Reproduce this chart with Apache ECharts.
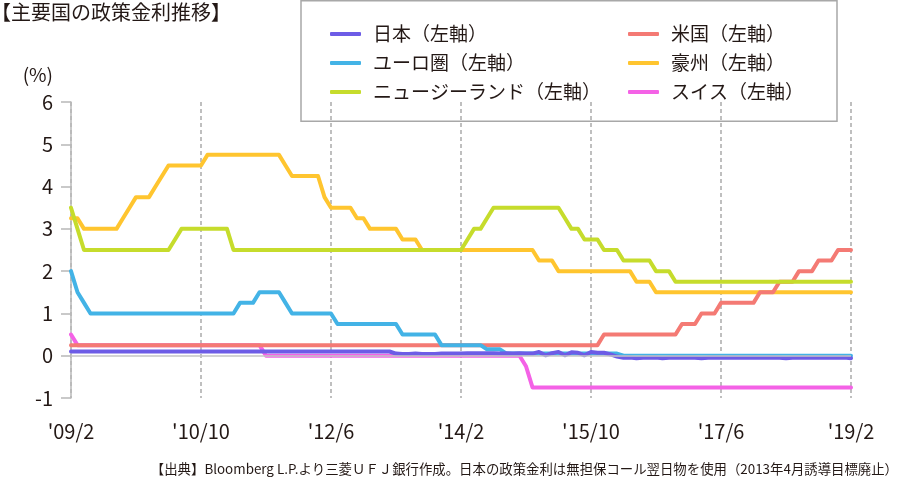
<!DOCTYPE html>
<html>
<head>
<meta charset="utf-8">
<script src="https://cdn.jsdelivr.net/npm/echarts@6/dist/echarts.min.js"></script>
<style>
html,body{margin:0;padding:0;background:#fff;}
#chart{width:900px;height:480px;}
</style>
</head>
<body>
<div id="chart"></div>
<script>
// ---- data (monthly, 2009/2 .. 2019/2) ----
const startYear = 2009, startMonth = 2, monthCount = 121;
const categories = [];
for (let i = 0; i < monthCount; i++) {
  const t = (startMonth - 1) + i;
  categories.push((startYear + Math.floor(t / 12)) + '/' + (t % 12 + 1));
}
const tickLabels = ["'09/2", "'10/10", "'12/6", "'14/2", "'15/10", "'17/6", "'19/2"];
const yTicks = [-1, 0, 1, 2, 3, 4, 5, 6];

const japan = [
  0.10,0.10,0.10,0.10,0.10,0.10,0.10,0.10,0.10,0.10,0.10,0.10,
  0.10,0.10,0.10,0.10,0.10,0.10,0.10,0.10,0.10,0.10,0.10,0.10,
  0.10,0.10,0.10,0.10,0.10,0.10,0.10,0.10,0.10,0.10,0.10,0.10,
  0.10,0.10,0.10,0.10,0.10,0.10,0.10,0.10,0.10,0.10,0.10,0.10,
  0.10,0.10,0.05,0.04,0.04,0.05,0.04,0.04,0.04,0.05,0.05,0.05,
  0.05,0.06,0.06,0.06,0.06,0.06,0.05,0.06,0.05,0.06,0.05,0.05,
  0.09,0.01,0.06,0.09,0.01,0.08,0.07,0.01,0.09,0.07,0.07,0.03,
  -0.02,-0.05,-0.04,-0.06,-0.05,-0.05,-0.04,-0.06,-0.05,-0.04,-0.05,-0.05,
  -0.05,-0.06,-0.05,-0.04,-0.05,-0.05,-0.04,-0.05,-0.05,-0.04,-0.05,-0.05,
  -0.04,-0.05,-0.06,-0.05,-0.05,-0.05,-0.05,-0.05,-0.05,-0.05,-0.05,-0.04,
  -0.06
];
const euro = [
  2.00,1.50,1.25,1.00,1.00,1.00,1.00,1.00,1.00,1.00,1.00,1.00,
  1.00,1.00,1.00,1.00,1.00,1.00,1.00,1.00,1.00,1.00,1.00,1.00,
  1.00,1.00,1.25,1.25,1.25,1.50,1.50,1.50,1.50,1.25,1.00,1.00,
  1.00,1.00,1.00,1.00,1.00,0.75,0.75,0.75,0.75,0.75,0.75,0.75,
  0.75,0.75,0.75,0.50,0.50,0.50,0.50,0.50,0.50,0.25,0.25,0.25,
  0.25,0.25,0.25,0.25,0.15,0.15,0.15,0.05,0.05,0.05,0.05,0.05,
  0.05,0.05,0.05,0.05,0.05,0.05,0.05,0.05,0.05,0.05,0.05,0.05,
  0.05,0.00,0.00,0.00,0.00,0.00,0.00,0.00,0.00,0.00,0.00,0.00,
  0.00,0.00,0.00,0.00,0.00,0.00,0.00,0.00,0.00,0.00,0.00,0.00,
  0.00,0.00,0.00,0.00,0.00,0.00,0.00,0.00,0.00,0.00,0.00,0.00,
  0.00
];
const nz = [
  3.50,3.00,2.50,2.50,2.50,2.50,2.50,2.50,2.50,2.50,2.50,2.50,
  2.50,2.50,2.50,2.50,2.75,3.00,3.00,3.00,3.00,3.00,3.00,3.00,
  3.00,2.50,2.50,2.50,2.50,2.50,2.50,2.50,2.50,2.50,2.50,2.50,
  2.50,2.50,2.50,2.50,2.50,2.50,2.50,2.50,2.50,2.50,2.50,2.50,
  2.50,2.50,2.50,2.50,2.50,2.50,2.50,2.50,2.50,2.50,2.50,2.50,
  2.50,2.75,3.00,3.00,3.25,3.50,3.50,3.50,3.50,3.50,3.50,3.50,
  3.50,3.50,3.50,3.50,3.25,3.00,3.00,2.75,2.75,2.75,2.50,2.50,
  2.50,2.25,2.25,2.25,2.25,2.25,2.00,2.00,2.00,1.75,1.75,1.75,
  1.75,1.75,1.75,1.75,1.75,1.75,1.75,1.75,1.75,1.75,1.75,1.75,
  1.75,1.75,1.75,1.75,1.75,1.75,1.75,1.75,1.75,1.75,1.75,1.75,
  1.75
];
const us = [
  0.25,0.25,0.25,0.25,0.25,0.25,0.25,0.25,0.25,0.25,0.25,0.25,
  0.25,0.25,0.25,0.25,0.25,0.25,0.25,0.25,0.25,0.25,0.25,0.25,
  0.25,0.25,0.25,0.25,0.25,0.25,0.25,0.25,0.25,0.25,0.25,0.25,
  0.25,0.25,0.25,0.25,0.25,0.25,0.25,0.25,0.25,0.25,0.25,0.25,
  0.25,0.25,0.25,0.25,0.25,0.25,0.25,0.25,0.25,0.25,0.25,0.25,
  0.25,0.25,0.25,0.25,0.25,0.25,0.25,0.25,0.25,0.25,0.25,0.25,
  0.25,0.25,0.25,0.25,0.25,0.25,0.25,0.25,0.25,0.25,0.50,0.50,
  0.50,0.50,0.50,0.50,0.50,0.50,0.50,0.50,0.50,0.50,0.75,0.75,
  0.75,1.00,1.00,1.00,1.25,1.25,1.25,1.25,1.25,1.25,1.50,1.50,
  1.50,1.75,1.75,1.75,2.00,2.00,2.00,2.25,2.25,2.25,2.50,2.50,
  2.50
];
const australia = [
  3.25,3.25,3.00,3.00,3.00,3.00,3.00,3.00,3.25,3.50,3.75,3.75,
  3.75,4.00,4.25,4.50,4.50,4.50,4.50,4.50,4.50,4.75,4.75,4.75,
  4.75,4.75,4.75,4.75,4.75,4.75,4.75,4.75,4.75,4.50,4.25,4.25,
  4.25,4.25,4.25,3.75,3.50,3.50,3.50,3.50,3.25,3.25,3.00,3.00,
  3.00,3.00,3.00,2.75,2.75,2.75,2.50,2.50,2.50,2.50,2.50,2.50,
  2.50,2.50,2.50,2.50,2.50,2.50,2.50,2.50,2.50,2.50,2.50,2.50,
  2.25,2.25,2.25,2.00,2.00,2.00,2.00,2.00,2.00,2.00,2.00,2.00,
  2.00,2.00,2.00,1.75,1.75,1.75,1.50,1.50,1.50,1.50,1.50,1.50,
  1.50,1.50,1.50,1.50,1.50,1.50,1.50,1.50,1.50,1.50,1.50,1.50,
  1.50,1.50,1.50,1.50,1.50,1.50,1.50,1.50,1.50,1.50,1.50,1.50,
  1.50
];
const swiss = [
  0.50,0.25,0.25,0.25,0.25,0.25,0.25,0.25,0.25,0.25,0.25,0.25,
  0.25,0.25,0.25,0.25,0.25,0.25,0.25,0.25,0.25,0.25,0.25,0.25,
  0.25,0.25,0.25,0.25,0.25,0.25,0.00,0.00,0.00,0.00,0.00,0.00,
  0.00,0.00,0.00,0.00,0.00,0.00,0.00,0.00,0.00,0.00,0.00,0.00,
  0.00,0.00,0.00,0.00,0.00,0.00,0.00,0.00,0.00,0.00,0.00,0.00,
  0.00,0.00,0.00,0.00,0.00,0.00,0.00,0.00,0.00,0.00,-0.25,-0.75,
  -0.75,-0.75,-0.75,-0.75,-0.75,-0.75,-0.75,-0.75,-0.75,-0.75,-0.75,-0.75,
  -0.75,-0.75,-0.75,-0.75,-0.75,-0.75,-0.75,-0.75,-0.75,-0.75,-0.75,-0.75,
  -0.75,-0.75,-0.75,-0.75,-0.75,-0.75,-0.75,-0.75,-0.75,-0.75,-0.75,-0.75,
  -0.75,-0.75,-0.75,-0.75,-0.75,-0.75,-0.75,-0.75,-0.75,-0.75,-0.75,-0.75,
  -0.75
];

const names = {
  japan: '日本（左軸）', euro: 'ユーロ圏（左軸）', nz: 'ニュージーランド（左軸）',
  us: '米国（左軸）', australia: '豪州（左軸）', swiss: 'スイス（左軸）'
};
const colors = {
  japan: '#6d5ce6', euro: '#43b3e6', nz: '#c6dc2c',
  us: '#f47a74', australia: '#ffc52f', swiss: '#f462e6'
};
const titleText = '【主要国の政策金利推移】';
const unitText = '(%)';
const sourceText = '【出典】Bloomberg L.P.より三菱ＵＦＪ銀行作成。日本の政策金利は無担保コール翌日物を使用（2013年4月誘導目標廃止）';

const FONT = '"Noto Sans CJK JP", "Noto Sans", sans-serif';
const INK = '#231815';

function lineSeries(key, data, extra) {
  return Object.assign({
    name: names[key],
    type: 'line',
    data: data,
    showSymbol: false,
    symbol: 'none',
    smooth: false,
    color: colors[key],
    lineStyle: { width: 4, color: colors[key], join: 'round', cap: 'round' },
    emphasis: { disabled: true }
  }, extra || {});
}

const chart = echarts.init(document.getElementById('chart'), null, { renderer: 'canvas' });
const legendCommon = {
  orient: 'vertical',
  icon: 'roundRect',
  padding: 0,
  itemWidth: 31,
  itemHeight: 4,
  itemGap: 9,
  selectedMode: false,
  textStyle: { fontFamily: FONT, fontSize: 19, color: INK, lineHeight: 20, padding: [0, 0, 0, 7] }
};
chart.setOption({
  animation: false,
  textStyle: { fontFamily: FONT },
  grid: { left: 71, right: 49, top: 102, bottom: 82, containLabel: false },
  legend: [
    Object.assign({ left: 330, top: 24, data: [names.japan, names.euro, names.nz] }, legendCommon),
    Object.assign({ left: 628, top: 24, data: [names.us, names.australia, names.swiss] }, legendCommon)
  ],
  xAxis: {
    type: 'category',
    data: categories,
    boundaryGap: false,
    axisLine: { show: false },
    axisTick: { show: false },
    axisLabel: {
      interval: 19,
      margin: 23,
      fontSize: 20,
      color: INK,
      fontFamily: FONT,
      formatter: function (v, i) { return i % 20 === 0 ? tickLabels[i / 20] : ''; }
    },
    splitLine: {
      show: true,
      interval: 19,
      lineStyle: { color: '#aaaaaa', width: 1.5, type: [4, 3] }
    }
  },
  yAxis: {
    type: 'value',
    min: yTicks[0],
    max: yTicks[yTicks.length - 1],
    interval: 1,
    axisLine: { show: true, lineStyle: { color: '#b8b8b8', width: 1.5 } },
    axisTick: { show: true, length: 10, lineStyle: { color: '#b8b8b8', width: 1.5 } },
    axisLabel: { margin: 18, fontSize: 20, color: INK, fontFamily: FONT },
    splitLine: { show: false }
  },
  series: [
    lineSeries('swiss', swiss, {
      markLine: {
        silent: true, symbol: 'none', label: { show: false },
        lineStyle: { color: '#c4c4c4', width: 1.5, type: 'solid' },
        data: [{ yAxis: 0 }]
      }
    }),
    lineSeries('australia', australia),
    lineSeries('us', us),
    lineSeries('euro', euro),
    lineSeries('nz', nz),
    lineSeries('japan', japan)
  ],
  graphic: [
    { type: 'rect', z: -1, shape: { x: 301, y: 0.75, width: 536, height: 120.5 },
      style: { fill: '#fff', stroke: '#a8a8a8', lineWidth: 1.5 } },
    { type: 'text', x: -9, y: 12,
      style: { text: titleText, font: '20px ' + FONT, fill: INK, verticalAlign: 'middle' } },
    { type: 'text', x: 53, y: 75,
      style: { text: unitText, font: '19px ' + FONT, fill: INK, align: 'right', verticalAlign: 'middle' } },
    { type: 'text', x: 898, y: 469,
      style: { text: sourceText, font: '13.4px ' + FONT, fill: INK, align: 'right', verticalAlign: 'middle' } }
  ]
});
</script>
</body>
</html>
